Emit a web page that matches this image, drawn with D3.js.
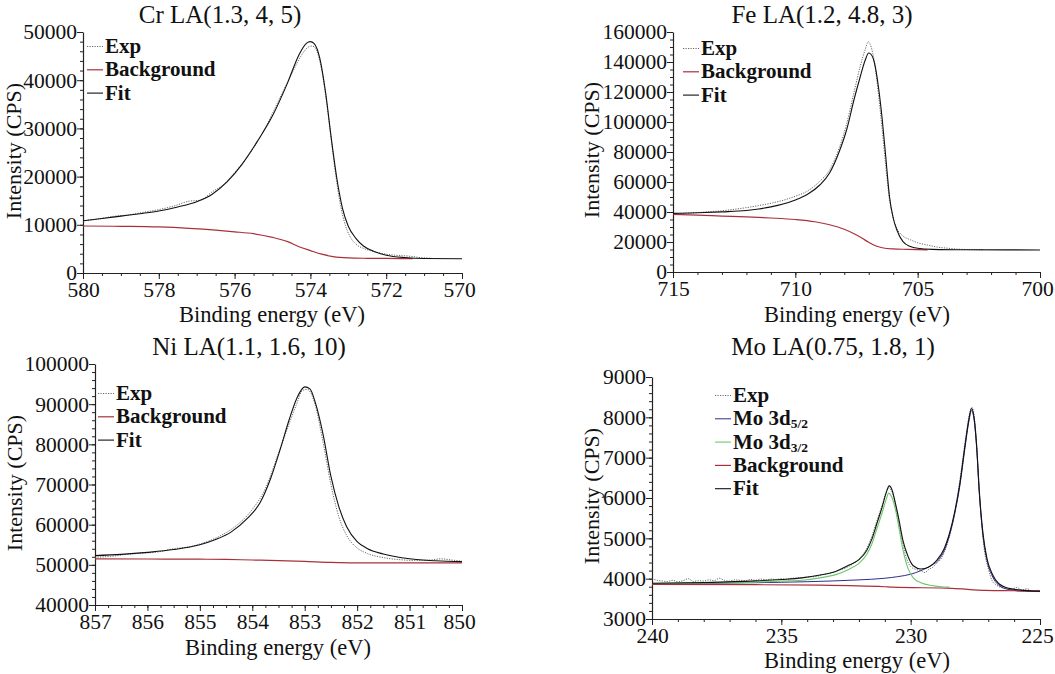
<!DOCTYPE html>
<html>
<head>
<meta charset="utf-8">
<script src="https://cdn.jsdelivr.net/npm/d3@7"></script>
<style>
  body { margin: 0; background: #fff; }
  svg text { font-family: "Liberation Serif", "Times New Roman", serif; fill: #111; }
</style>
</head>
<body>
<svg id="chart" width="1055" height="674"></svg>
<script>
// ---- Cr 2p3/2 region: [binding energy (eV), intensity (CPS)] ----
const crExp = [[580,10800],[579.6,11200],[579.2,11750],[578.8,12050],[578.4,12600],[578,13150],[577.6,13900],[577.2,14900],[576.9,15100],[576.6,16800],[576.3,18300],[576,20800],[575.6,24800],[575.2,30000],[574.8,36400],[574.5,41200],[574.25,45000],[574.05,46900],[573.95,47100],[573.85,46400],[573.7,42000],[573.55,34000],[573.4,24500],[573.25,16000],[573.1,10500],[572.95,7500],[572.8,6000],[572.6,5100],[572.4,4600],[572.2,4200],[572,3900],[571.7,3650],[571.4,3500],[571.1,3200],[570.8,3050]];
const crBackground = [[580,9750],[579,9680],[578,9550],[577.2,9270],[576.5,8900],[576,8550],[575.5,8150],[575,7400],[574.6,6500],[574.3,5450],[574,4650],[573.7,3900],[573.4,3380],[573,3120],[572.5,3050],[572,3020],[571.3,2970]];
const crFit = [[580,10850],[579.5,11300],[579,11800],[578.5,12300],[578,12850],[577.5,13700],[577,14800],[576.6,16300],[576.2,18900],[575.8,22600],[575.4,27300],[575,32600],[574.6,39500],[574.3,45300],[574.1,47700],[574,48000],[573.9,47600],[573.75,44500],[573.6,37500],[573.45,28000],[573.3,19500],[573.15,13300],[573,9700],[572.8,7200],[572.6,5600],[572.3,4400],[572,3700],[571.5,3200],[571,3000],[570,2950]];
const crXTicks = [580, 578, 576, 574, 572, 570];
const crYTicks = [0, 10000, 20000, 30000, 40000, 50000];

// ---- Fe 2p3/2 region ----
const feExp = [[715,39000],[714.5,39100],[714,39600],[713.5,40200],[713,40800],[712.5,41800],[712,42900],[711.5,44300],[711,45800],[710.5,47800],[710,50500],[709.5,54000],[709,60500],[708.6,68000],[708.2,83000],[707.9,99000],[707.6,120000],[707.35,137000],[707.15,148000],[707.02,153500],[706.9,150000],[706.75,138000],[706.6,118000],[706.45,95000],[706.3,70000],[706.15,48000],[706,36000],[705.85,29000],[705.6,24000],[705.3,21500],[705,19500],[704.6,18000],[704.2,16600],[703.8,15900],[703.4,15300],[703,15000],[702.6,14900],[702.3,14800]];
const feBackground = [[715,38400],[714,37900],[713,37300],[712,36700],[711,36000],[710,35000],[709.2,33500],[708.6,31500],[708,28500],[707.6,25500],[707.3,22800],[707,19800],[706.7,17300],[706.4,16000],[706,15400],[705.4,15100],[704.6,14700]];
const feFit = [[715,39100],[714,39500],[713,40100],[712,41000],[711.5,42000],[711,43400],[710.5,45300],[710,48000],[709.5,51800],[709,58000],[708.6,66000],[708.2,80500],[707.9,95000],[707.6,115000],[707.35,130000],[707.15,141000],[707,146000],[706.9,145000],[706.76,139000],[706.6,123000],[706.45,102000],[706.3,76000],[706.15,50000],[706,36000],[705.85,28000],[705.6,20200],[705.3,17000],[705,15800],[704.4,15100],[703,14800],[700,14700]];
const feXTicks = [715, 710, 705, 700];
const feYTicks = [0, 20000, 40000, 60000, 80000, 100000, 120000, 140000, 160000];

// ---- Ni 2p3/2 region ----
const niExp = [[857,51900],[856.7,52100],[856.4,52600],[856.1,52900],[855.8,53200],[855.5,54000],[855.2,54500],[854.9,55600],[854.6,57300],[854.3,59800],[854,63800],[853.75,69000],[853.5,77800],[853.3,85000],[853.15,90200],[853.05,93300],[852.95,93700],[852.8,89800],[852.65,80500],[852.5,70000],[852.35,62000],[852.2,57300],[852,54200],[851.8,52800],[851.5,51800],[851.2,51300],[850.9,51100],[850.6,51200],[850.4,51500],[850.2,51200],[850,50900]];
const niBackground = [[857,51500],[856,51450],[855,51400],[854.5,51350],[854,51200],[853.5,51050],[853,50850],[852.5,50600],[852,50500],[851,50500],[850,50500]];
const niFit = [[857,52300],[856.5,52600],[856,53100],[855.5,53800],[855,55000],[854.7,56300],[854.4,58200],[854.1,61500],[853.85,65500],[853.65,71500],[853.45,79500],[853.3,86000],[853.15,91500],[853,94300],[852.9,93800],[852.8,90500],[852.65,82500],[852.5,72000],[852.35,64500],[852.2,59500],[852,55800],[851.8,54000],[851.5,52700],[851,51500],[850.5,51000],[850,50800]];
const niXTicks = [857, 856, 855, 854, 853, 852, 851, 850];
const niYTicks = [40000, 50000, 60000, 70000, 80000, 90000, 100000];

// ---- Mo 3d region ----
const moExp = [[240,4000],[239.8,3960],[239.6,3940],[239.4,3930],[239.2,3960],[239,3920],[238.8,3950],[238.6,4000],[238.4,3930],[238.2,3950],[238,3940],[237.8,3970],[237.6,3950],[237.4,4010],[237.2,3960],[237,3940],[236.8,3970],[236.6,3960],[236.4,3950],[236.2,3980],[236,3960],[235.8,3990],[235.6,3970],[235.4,3990],[235.2,3980],[235,4000],[234.8,3990],[234.6,4010],[234.3,4020],[234,4040],[233.7,4050],[233.4,4100],[233.1,4140],[232.8,4200],[232.5,4270],[232.2,4380],[231.95,4520],[231.7,4750],[231.5,5050],[231.3,5450],[231.1,5830],[230.95,6150],[230.85,6250],[230.72,6150],[230.6,5850],[230.45,5350],[230.3,4850],[230.15,4480],[230,4300],[229.8,4230],[229.6,4200],[229.45,4150],[229.3,4230],[229.15,4280],[229,4380],[228.8,4520],[228.6,4830],[228.4,5300],[228.2,6000],[228,6900],[227.85,7600],[227.72,8100],[227.63,8250],[227.55,8050],[227.45,7350],[227.35,6250],[227.25,5300],[227.15,4700],[227,4250],[226.85,3950],[226.7,3850],[226.5,3780],[226.3,3760],[226.1,3740],[225.9,3780],[225.7,3720],[225.5,3750],[225.3,3690],[225.1,3710],[225,3700]];
const mo3d52 = [[240,3875],[238,3885],[236,3900],[234,3925],[232,3970],[231,4010],[230.5,4050],[230,4110],[229.6,4200],[229.2,4330],[228.9,4480],[228.7,4700],[228.5,5080],[228.3,5600],[228.1,6300],[227.9,7250],[227.75,7900],[227.65,8170],[227.55,7950],[227.45,7250],[227.35,6150],[227.2,5050],[227.05,4450],[226.85,4070],[226.6,3840],[226.2,3730],[225.6,3690],[225,3680]];
const mo3d32 = [[240,3880],[238,3895],[236,3915],[235,3940],[234.2,3960],[233.5,4020],[232.9,4100],[232.4,4230],[232,4380],[231.7,4600],[231.5,4860],[231.3,5250],[231.1,5640],[230.95,5960],[230.85,6120],[230.75,6050],[230.6,5750],[230.45,5250],[230.3,4720],[230.1,4250],[229.9,4020],[229.6,3900],[229.2,3830],[228.8,3800],[228.5,3790]];
const moBackground = [[240,3860],[236,3850],[233.5,3840],[231,3800],[230.7,3790],[228.4,3760],[227.1,3710],[226,3700],[225,3690]];
const moFit = [[240,3885],[238,3905],[236,3945],[235,3980],[234.2,4020],[233.5,4090],[232.9,4180],[232.4,4330],[232,4470],[231.7,4700],[231.5,4980],[231.3,5380],[231.1,5780],[230.95,6120],[230.83,6300],[230.72,6200],[230.6,5900],[230.45,5450],[230.3,4950],[230.1,4550],[229.9,4320],[229.6,4240],[229.3,4290],[229,4450],[228.7,4750],[228.5,5120],[228.3,5650],[228.1,6350],[227.9,7300],[227.75,7950],[227.65,8220],[227.55,8000],[227.45,7300],[227.35,6200],[227.2,5100],[227.05,4500],[226.85,4120],[226.6,3880],[226.2,3760],[225.6,3710],[225,3690]];
const moXTicks = [240, 235, 230, 225];
const moYTicks = [3000, 4000, 5000, 6000, 7000, 8000, 9000];

// ---- line styles ----
const styles = {
  exp:  { stroke: "#555", width: 0.9, dash: "1.2,1.3" },
  bg:   { stroke: "#a8303a", width: 1.2, dash: null },
  fit:  { stroke: "#111", width: 1.1, dash: null },
  d52:  { stroke: "#2e2e8e", width: 1.0, dash: null },
  d32:  { stroke: "#6cc86c", width: 1.1, dash: null }
};

// ---- panel layout ----
const panels = [
  { title: "Cr LA(1.3, 4, 5)", titleX: 220, titleY: 23,
    left: 83, right: 462, top: 32, bottom: 273,
    xDomain: [580, 570], yDomain: [0, 50000], xTicks: crXTicks, yTicks: crYTicks,
    xMinor: 0.5, yMinor: 2000, xTitleX: 272, xTitleY: 322, yTitleX: 20.5, yTitleY: 151,
    legendX: 87, legendY: 53,
    series: [{ data: crExp, s: "exp", label: "Exp" }, { data: crBackground, s: "bg", label: "Background" }, { data: crFit, s: "fit", label: "Fit" }] },
  { title: "Fe LA(1.2, 4.8, 3)", titleX: 822, titleY: 23,
    left: 673, right: 1040, top: 32, bottom: 272,
    xDomain: [715, 700], yDomain: [0, 160000], xTicks: feXTicks, yTicks: feYTicks,
    xMinor: 1, yMinor: 5000, xTitleX: 857, xTitleY: 322, yTitleX: 599, yTitleY: 150,
    legendX: 683, legendY: 55,
    series: [{ data: feExp, s: "exp", label: "Exp" }, { data: feBackground, s: "bg", label: "Background" }, { data: feFit, s: "fit", label: "Fit" }] },
  { title: "Ni LA(1.1, 1.6, 10)", titleX: 249, titleY: 355,
    left: 95, right: 462, top: 364, bottom: 605,
    xDomain: [857, 850], yDomain: [40000, 100000], xTicks: niXTicks, yTicks: niYTicks,
    xMinor: 0.25, yMinor: 2000, xTitleX: 278, xTitleY: 655, yTitleX: 21.5, yTitleY: 483,
    legendX: 98, legendY: 400,
    series: [{ data: niExp, s: "exp", label: "Exp" }, { data: niBackground, s: "bg", label: "Background" }, { data: niFit, s: "fit", label: "Fit" }] },
  { title: "Mo LA(0.75, 1.8, 1)", titleX: 833, titleY: 355,
    left: 652, right: 1040, top: 377, bottom: 619,
    xDomain: [240, 225], yDomain: [3000, 9000], xTicks: moXTicks, yTicks: moYTicks,
    xMinor: 1, yMinor: 200, xTitleX: 857, xTitleY: 668, yTitleX: 599, yTitleY: 496,
    legendX: 715, legendY: 402,
    series: [{ data: moExp, s: "exp", label: "Exp" }, { data: mo3d52, s: "d52", label: "Mo 3d", sub: "5/2" },
             { data: mo3d32, s: "d32", label: "Mo 3d", sub: "3/2" }, { data: moBackground, s: "bg", label: "Background" },
             { data: moFit, s: "fit", label: "Fit" }] }
];

const svg = d3.select("#chart");
const tickFont = 21.5;

panels.forEach(p => {
  const g = svg.append("g");
  const x = d3.scaleLinear().domain(p.xDomain).range([p.left, p.right]);
  const y = d3.scaleLinear().domain(p.yDomain).range([p.bottom, p.top]);

  // minor ticks
  const [xa, xb] = [Math.min(...p.xDomain), Math.max(...p.xDomain)];
  const xMinorVals = d3.range(Math.round((xb - xa) / p.xMinor) + 1).map(i => xa + i * p.xMinor);
  const yMinorVals = d3.range(Math.round((p.yDomain[1] - p.yDomain[0]) / p.yMinor) + 1).map(i => p.yDomain[0] + i * p.yMinor);

  g.append("g").attr("transform", `translate(0,${p.bottom})`)
    .call(d3.axisBottom(x).tickValues(xMinorVals).tickSize(3).tickSizeOuter(0).tickFormat(""))
    .call(a => a.select(".domain").remove());
  g.append("g").attr("transform", `translate(${p.left},0)`)
    .call(d3.axisLeft(y).tickValues(yMinorVals).tickSize(3).tickSizeOuter(0).tickFormat(""))
    .call(a => a.select(".domain").remove());

  // major axes
  const xAxis = g.append("g").attr("transform", `translate(0,${p.bottom})`)
    .call(d3.axisBottom(x).tickValues(p.xTicks).tickSize(6).tickSizeOuter(0).tickPadding(3).tickFormat(d3.format("d")));
  const yAxis = g.append("g").attr("transform", `translate(${p.left},0)`)
    .call(d3.axisLeft(y).tickValues(p.yTicks).tickSize(6).tickSizeOuter(0).tickPadding(0).tickFormat(d3.format("d")));
  [xAxis, yAxis].forEach(a => {
    a.attr("font-family", null);
    a.selectAll("text").attr("font-size", tickFont).style("fill", "#111");
    a.select(".domain").attr("stroke", "#222").attr("stroke-width", 1.2);
  });
  // keep the rightmost energy label inside the page edge
  const xEnd = Math.min(...p.xDomain);
  xAxis.selectAll(".tick text").filter(d => d === xEnd).attr("dx", -3);
  g.selectAll("line").attr("stroke", "#222");

  // curves
  const line = d3.line().x(d => x(d[0])).y(d => y(d[1])).curve(d3.curveMonotoneX);
  p.series.forEach(sr => {
    const st = styles[sr.s];
    g.append("path").datum(sr.data)
      .attr("d", line)
      .attr("fill", "none")
      .attr("stroke", st.stroke)
      .attr("stroke-width", st.width)
      .attr("stroke-dasharray", st.dash);
  });

  // legend
  p.series.forEach((sr, i) => {
    const st = styles[sr.s];
    const by = p.legendY + i * 23.3;
    g.append("line")
      .attr("x1", p.legendX).attr("x2", p.legendX + 16)
      .attr("y1", by - 6.5).attr("y2", by - 6.5)
      .attr("stroke", st.stroke).attr("stroke-width", st.width)
      .attr("stroke-dasharray", st.dash);
    const t = g.append("text")
      .attr("x", p.legendX + 18).attr("y", by)
      .attr("font-size", 21).attr("font-weight", "bold")
      .text(sr.label);
    if (sr.sub) {
      t.append("tspan").attr("dy", 3).attr("font-size", 13.5).text(sr.sub);
    }
  });

  // titles
  g.append("text").attr("x", p.titleX).attr("y", p.titleY)
    .attr("text-anchor", "middle").attr("font-size", 25).text(p.title);
  g.append("text").attr("x", p.xTitleX).attr("y", p.xTitleY)
    .attr("text-anchor", "middle").attr("font-size", 22.5).text("Binding energy (eV)");
  g.append("text")
    .attr("transform", `translate(${p.yTitleX},${p.yTitleY}) rotate(-90)`)
    .attr("text-anchor", "middle").attr("font-size", 22).text("Intensity (CPS)");
});
</script>
</body>
</html>
